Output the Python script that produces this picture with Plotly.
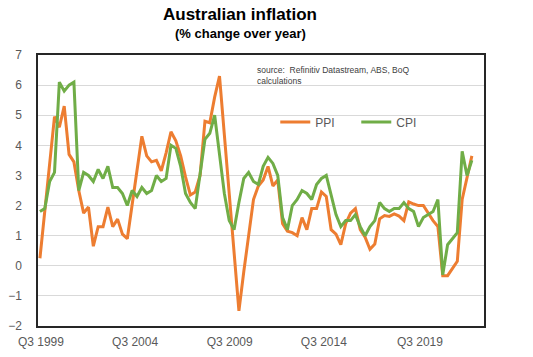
import plotly.graph_objects as go

QUARTERS = [f"Q{q} {y}" for y in range(1999, 2022) for q in (1, 2, 3, 4)][2:]  # Q3 1999 .. Q4 2021

PPI = [0.25, 1.8, 3.4, 4.95, 4.6, 5.3, 3.7, 3.45, 2.5, 1.75,
       1.95, 0.65, 1.3, 1.3, 1.95, 1.3, 1.55, 1.05, 0.9, 2.05,
       3.2, 4.3, 3.65, 3.45, 3.5, 3.15, 3.75, 4.45, 4.15, 3.65,
       2.95, 2.35, 2.45, 3.0, 4.8, 4.75, 5.6, 6.3, 4.35, 2.4,
       0.45, -1.5, -0.2, 1.0, 2.2, 2.65, 2.85, 3.3, 2.65, 2.85,
       1.4, 1.15, 1.1, 1.0, 1.6, 1.2, 1.9, 1.9, 2.45, 2.3,
       1.2, 1.05, 0.7, 1.4, 1.75, 1.9, 1.2, 0.95, 0.55, 0.72,
       1.56, 1.67, 1.64, 1.72, 1.65, 1.5, 2.12, 2.05, 2.0, 2.0,
       1.75, 1.5, 1.3, -0.33, -0.33, -0.1, 0.15, 2.2, 2.9, 3.65]

CPI = [1.8, 1.9, 2.8, 3.1, 6.1, 5.8, 6.0, 6.1, 2.5, 3.1,
       3.0, 2.8, 3.2, 2.9, 3.3, 2.6, 2.6, 2.4, 2.0, 2.5,
       2.3, 2.6, 2.4, 2.5, 3.0, 2.8, 2.9, 4.0, 3.9, 3.3,
       2.4, 2.1, 1.9, 3.0, 4.2, 4.4, 5.0, 3.7, 2.4, 1.5,
       1.2, 2.1, 2.9, 3.1, 2.8, 2.7, 3.3, 3.6, 3.4, 3.0,
       1.6, 1.2, 2.0, 2.2, 2.5, 2.4, 2.2, 2.7, 2.9, 3.0,
       2.3, 1.7, 1.3, 1.5, 1.5, 1.7, 1.3, 1.0, 1.3, 1.5,
       2.1, 1.9, 1.8, 1.9, 1.9, 2.1, 1.9, 1.8, 1.3, 1.6,
       1.7, 1.8, 2.2, -0.3, 0.7, 0.9, 1.1, 3.8, 3.0, 3.5]

TICK_LABELS = ["Q3 1999", "Q3 2004", "Q3 2009", "Q3 2014", "Q3 2019"]

x = list(range(len(QUARTERS)))
tick_pos = [0.2, 19.6, 39.1, 58.5, 78.3]

FONT = "Liberation Sans, Arial, sans-serif"

fig = go.Figure()
fig.add_trace(go.Scatter(x=x, y=PPI, mode="lines", name="PPI",
                         line=dict(color="#ED7D31", width=3)))
fig.add_trace(go.Scatter(x=x, y=CPI, mode="lines", name="CPI",
                         line=dict(color="#70AD47", width=3)))

fig.update_layout(
    width=533, height=357,
    margin=dict(l=38, r=49, t=55, b=31, autoexpand=False),
    paper_bgcolor="white", plot_bgcolor="white",
    font=dict(family=FONT, color="#595959", size=12),
    showlegend=True,
    legend=dict(orientation="h", x=0.532, y=0.753, xanchor="left", yanchor="middle",
                bgcolor="rgba(0,0,0,0)", font=dict(size=12, color="#595959"),
                entrywidth=36, entrywidthmode="pixels", itemwidth=30,
                tracegroupgap=0),
    xaxis=dict(range=[-0.4, 91.5], tickvals=tick_pos, ticktext=TICK_LABELS,
               showgrid=False, zeroline=False, showline=True, mirror=True,
               linecolor="#262626", linewidth=1.5, ticks="", ticklabelstandoff=4,
               automargin=False, tickfont=dict(size=12, color="#595959")),
    yaxis=dict(range=[-2, 7], dtick=1, tick0=0, showgrid=True, gridcolor="#D9D9D9",
               gridwidth=1, zeroline=False, showline=True, mirror=True,
               linecolor="#262626", linewidth=1.5, ticks="", ticklabelstandoff=12,
               automargin=False, tickfont=dict(size=12, color="#595959")),
    annotations=[
        dict(text="<b>Australian inflation</b>", xref="paper", yref="paper",
             x=(240 - 38) / 446, y=(326 - 14) / 271, xanchor="center", yanchor="middle",
             showarrow=False, font=dict(size=17, color="black", family=FONT)),
        dict(text="<b>(% change over year)</b>", xref="paper", yref="paper",
             x=(240 - 38) / 446, y=(326 - 34) / 271, xanchor="center", yanchor="middle",
             showarrow=False, font=dict(size=13, color="black", family=FONT)),
        dict(text="source:  Refinitiv Datastream, ABS, BoQ<br>calculations",
             xref="paper", yref="paper", x=(255 - 38) / 446, y=(326 - 63) / 271,
             xanchor="left", yanchor="top", align="left", showarrow=False,
             font=dict(size=8.5, color="#404040", family=FONT)),
    ],
)

fig.write_html("out.html", config={"displayModeBar": False},
               post_script="document.body.style.margin='0px';document.body.style.padding='0px';")
